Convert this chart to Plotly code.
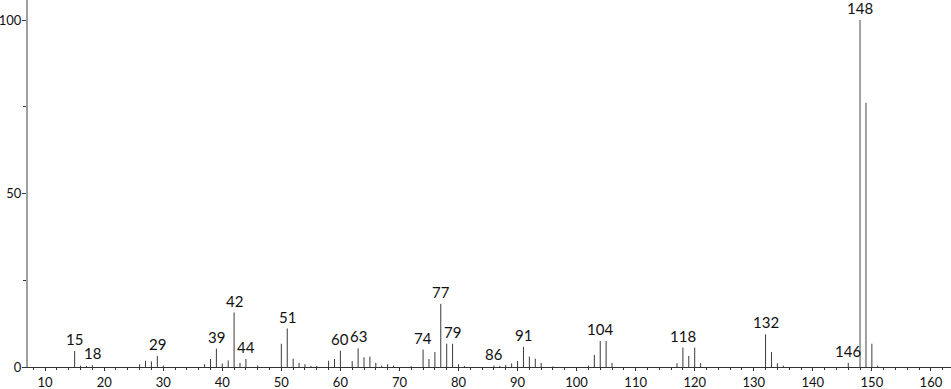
import plotly.graph_objects as go

# m/z values and relative intensities (minor peaks)
mz = [15, 16, 17, 18, 26, 27, 28, 29, 30, 37, 38, 39, 40, 41, 42, 43, 44, 46,
      50, 51, 52, 53, 54, 55, 56, 58, 59, 60, 62, 63, 64, 65, 66, 67, 68, 69, 72,
      74, 75, 76, 77, 78, 79, 80, 81, 86, 87, 88, 89, 90, 91, 92, 93, 94, 96,
      102, 103, 104, 105, 106, 117, 118, 119, 120, 121, 132, 133, 134, 135,
      146, 150, 151]
intensity = [4.6, 0.4, 0.3, 0.5, 0.8, 1.8, 1.6, 3.2, 0.4, 0.8, 2.3, 5.3, 1.0, 1.9, 15.7, 1.2, 2.3, 0.4,
             6.7, 11.1, 2.4, 1.2, 0.8, 0.3, 0.3, 1.8, 2.3, 4.7, 1.7, 5.4, 2.8, 3.0, 1.2, 0.4, 0.8, 0.4, 0.2,
             5.0, 2.3, 4.3, 18.2, 6.7, 6.7, 0.8, 0.3, 0.4, 0.3, 0.6, 1.0, 1.7, 5.8, 3.0, 2.4, 1.2, 0.2,
             0.4, 3.5, 7.5, 7.5, 1.2, 1.1, 5.6, 3.2, 5.6, 1.1, 9.4, 4.3, 1.1, 0.4,
             1.2, 6.7, 0.4]

# dominant peaks
major_mz = [148, 149]
major_intensity = [100.0, 76.2]

# labelled peaks
label_mz = [15, 18, 29, 39, 42, 44, 51, 60, 63, 74, 77, 79, 86, 91, 104, 118, 132, 146, 148]

x_ticks = [10, 20, 30, 40, 50, 60, 70, 80, 90, 100, 110, 120, 130, 140, 150, 160]
y_ticks = [0, 50, 100]


def stems(xs, ys):
    sx, sy = [], []
    for a, b in zip(xs, ys):
        sx += [a, a, None]
        sy += [0, b, None]
    return sx, sy


FONT = "Lato, DejaVu Sans, sans-serif"

fig = go.Figure()
sx, sy = stems(mz, intensity)
fig.add_trace(go.Scatter(x=sx, y=sy, mode="lines", line=dict(color="#3a3a3a", width=1),
                         hoverinfo="skip", showlegend=False))
mx, my = stems(major_mz, major_intensity)
fig.add_trace(go.Scatter(x=mx, y=my, mode="lines", line=dict(color="#a0a0a0", width=2),
                         hoverinfo="skip", showlegend=False))

all_h = dict(zip(mz + major_mz, intensity + major_intensity))
for m in label_mz:
    fig.add_annotation(x=m, y=all_h[m], text=str(m), showarrow=False,
                       yanchor="bottom", yshift=1,
                       font=dict(family=FONT, size=15, color="#111"))

fig.update_layout(
    width=951, height=389,
    margin=dict(l=28, r=0, t=0, b=22),
    plot_bgcolor="white", paper_bgcolor="white",
    xaxis=dict(range=[7.1, 163.4], tickvals=x_ticks, ticktext=[str(v) for v in x_ticks],
               ticks="outside", ticklen=3, tickcolor="#333", tickwidth=1, automargin=False,
               showline=True, linecolor="#333", linewidth=1, showgrid=False, zeroline=False,
               tickfont=dict(family=FONT, size=13, color="#111"),
               minor=dict(dtick=2, tick0=0, ticks="outside", ticklen=2, tickcolor="#333")),
    yaxis=dict(range=[0, 105.8], tickvals=y_ticks, ticktext=[str(v) for v in y_ticks],
               ticks="outside", ticklen=4, tickcolor="#333", tickwidth=1, automargin=False,
               ticklabelstandoff=-2,
               showline=True, linecolor="#a0a0a0", linewidth=2, showgrid=False, zeroline=False,
               tickfont=dict(family=FONT, size=13, color="#111"),
               minor=dict(dtick=25, tick0=0, ticks="outside", ticklen=3, tickcolor="#333")),
)

fig.write_html("out.html")
